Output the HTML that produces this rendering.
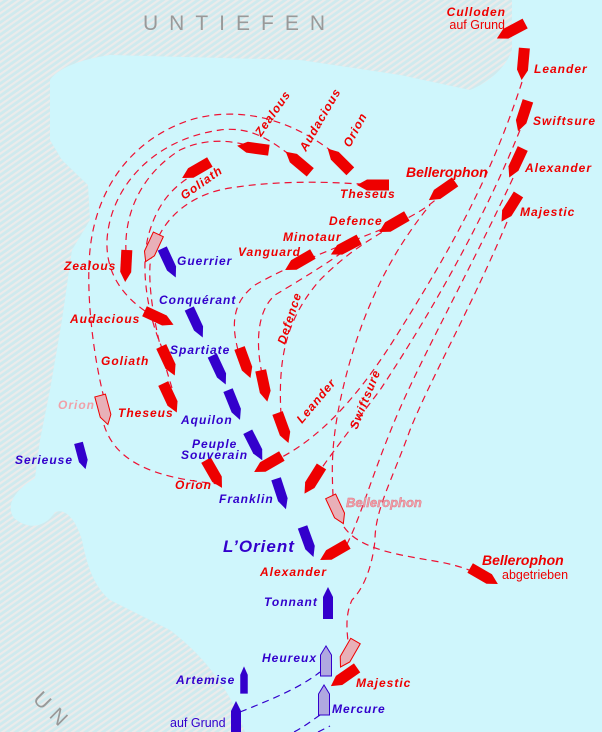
<!DOCTYPE html>
<html><head><meta charset="utf-8"><style>
html,body{margin:0;padding:0;width:602px;height:732px;overflow:hidden;background:#cff6fc}
svg{display:block}
.r{fill:#ee0000;font:italic bold 12px "Liberation Sans",sans-serif;letter-spacing:1px}
.b{fill:#3300cc;font:italic bold 12px "Liberation Sans",sans-serif;letter-spacing:1px}
.n{font:12.5px "Liberation Sans",sans-serif}
.d{fill:none;stroke:#ee1133;stroke-width:1.2;stroke-dasharray:7 5}
.db{fill:none;stroke:#3300cc;stroke-width:1.2;stroke-dasharray:7 5}
</style></head><body>
<svg width="602" height="732" viewBox="0 0 602 732" xmlns="http://www.w3.org/2000/svg">
<defs>
<pattern id="h" width="5" height="5" patternUnits="userSpaceOnUse" patternTransform="rotate(-35)">
<rect width="5" height="5" fill="#cfeaee"/><rect width="5" height="2.2" fill="#ebebeb"/>
</pattern>
<polygon id="sr" points="-16,-5.5 6,-5.5 16,0 6,5.5 -16,5.5" fill="#ee0000"/>
<polygon id="sb" points="-16,-5 6,-5 16,0 6,5 -16,5" fill="#3300cc"/>
<polygon id="sp" points="-15,-5.5 6,-5.5 15,0 6,5.5 -15,5.5" fill="#e8b0b8" stroke="#ee0000" stroke-width="1"/>
<polygon id="sq" points="-15,-5.5 6,-5.5 15,0 6,5.5 -15,5.5" fill="#b0a8e0" stroke="#3300cc" stroke-width="1"/>
</defs>
<rect width="602" height="732" fill="url(#h)"/>
<path fill="#cff6fc" d="M50,80 C60,65 90,58 110,55 L300,60 L400,75 L470,90 C495,80 508,62 512,50 L512,0 L602,0 L602,732 L245,732 C235,700 210,660 170,630 L110,600 C92,585 86,560 82,540 C76,520 66,508 55,512 C45,528 28,530 14,518 C5,505 15,490 35,478 L40,440 L50,390 L62,320 L72,250 L90,220 L88,185 L62,160 L50,140 Z"/>

<text x="143" y="30" fill="#999" font-family="Liberation Sans" font-size="21" letter-spacing="11">UNTIEFEN</text>
<text x="0" y="0" fill="#999" font-family="Liberation Sans" font-size="21" letter-spacing="8" transform="translate(32,700) rotate(45)">UN</text>

<path class="d" d="M104,398 C92,350 86,290 90,250 C96,190 130,140 190,120 C240,105 290,120 330,150"/>
<path class="d" d="M104,425 C115,460 150,478 220,484"/>
<path class="d" d="M145,311 C115,290 106,265 107,240 C110,190 150,140 220,130 C250,126 270,140 290,155"/>
<path class="d" d="M126,252 C124,215 140,175 180,150 C205,138 230,140 250,146"/>
<path class="d" d="M163,350 C145,310 140,260 150,230 C158,205 170,190 188,178"/>
<path class="d" d="M172,388 C160,350 148,300 150,265 C155,225 185,195 230,188 C280,180 330,182 360,184"/>
<path class="d" d="M238,350 C230,320 235,300 255,285 C290,265 330,250 400,222 C420,212 430,205 440,196"/>
<path class="d" d="M262,374 C255,340 258,310 275,295 C300,280 330,262 345,250"/>
<path class="d" d="M281,415 C278,360 285,320 320,280 C350,250 370,240 392,226"/>
<path class="d" d="M522,82 C490,180 450,250 400,330 C360,395 320,440 272,462"/>
<path class="d" d="M520,130 C480,230 420,330 380,390 C350,430 330,455 310,485"/>
<path class="d" d="M333,496 C332,470 330,440 345,380 C360,320 385,260 430,205"/>
<path class="d" d="M513,178 C470,270 420,360 395,420 C370,480 360,520 345,548"/>
<path class="d" d="M344,527 C360,550 400,555 440,562 C460,566 470,570 480,575"/>
<path class="d" d="M507,222 C470,310 430,380 410,430 C392,480 375,510 375,540 C372,570 362,590 352,600 C345,615 347,630 348,642"/>

<path class="db" d="M240,712 C270,700 300,688 320,672"/>
<path class="db" d="M320,715 C310,722 302,728 294,732"/>
<path class="db" d="M318,732 L330,726"/>

<use href="#sr" transform="translate(511,31) rotate(152)"/>
<use href="#sr" transform="translate(523,64) rotate(95)"/>
<use href="#sr" transform="translate(523,116) rotate(108)"/>
<use href="#sr" transform="translate(516,163) rotate(115)"/>
<use href="#sr" transform="translate(510,208) rotate(122)"/>
<use href="#sr" transform="translate(442,191) rotate(145)"/>
<use href="#sr" transform="translate(393,224) rotate(150)"/>
<use href="#sr" transform="translate(345,247) rotate(152)"/>
<use href="#sr" transform="translate(299,262) rotate(150)"/>
<use href="#sr" transform="translate(373,185) rotate(180)"/>
<use href="#sr" transform="translate(339,160) rotate(-135)"/>
<use href="#sr" transform="translate(298,162) rotate(-140)"/>
<use href="#sr" transform="translate(253,148) rotate(188)"/>
<use href="#sr" transform="translate(196,170) rotate(150)"/>
<use href="#sr" transform="translate(126,266) rotate(93)"/>
<use href="#sr" transform="translate(159,318) rotate(25)"/>
<use href="#sr" transform="translate(168,361) rotate(65)"/>
<use href="#sr" transform="translate(170,398) rotate(65)"/>
<use href="#sr" transform="translate(245,363) rotate(70)"/>
<use href="#sr" transform="translate(264,386) rotate(78)"/>
<use href="#sr" transform="translate(283,428) rotate(70)"/>
<use href="#sr" transform="translate(268,464) rotate(150)"/>
<use href="#sr" transform="translate(214,474) rotate(60)"/>
<use href="#sr" transform="translate(313,480) rotate(122)"/>
<use href="#sr" transform="translate(334,552) rotate(150)"/>
<use href="#sr" transform="translate(484,576) rotate(30)"/>
<use href="#sr" transform="translate(344,677) rotate(145)"/>
<use href="#sp" transform="translate(152,248) rotate(115)"/>
<use href="#sp" transform="translate(104,410) rotate(75)"/>
<use href="#sp" transform="translate(337,510) rotate(65)"/>
<use href="#sp" transform="translate(348,654) rotate(120)"/>
<use href="#sb" transform="translate(169,263) rotate(65)"/>
<use href="#sb" transform="translate(196,323) rotate(65)"/>
<use href="#sb" transform="translate(219,370) rotate(65)"/>
<use href="#sb" transform="translate(234,405) rotate(68)"/>
<use href="#sb" transform="translate(255,446) rotate(63)"/>
<use href="#sb" transform="translate(281,494) rotate(72)"/>
<use href="#sb" transform="translate(308,542) rotate(70)"/>
<use href="#sb" transform="translate(328,603) rotate(-90)"/>
<use href="#sb" transform="translate(82,456) rotate(75) scale(0.85,0.9)"/>
<use href="#sb" transform="translate(244,680) rotate(-90) scale(0.85,0.75)"/>
<use href="#sb" transform="translate(236,717) rotate(-90)"/>
<use href="#sq" transform="translate(326,661) rotate(-90)"/>
<use href="#sq" transform="translate(324,700) rotate(-90)"/>

<text class="r" x="506" y="16" text-anchor="end">Culloden</text>
<text class="n" x="505" y="29" fill="#ee0000" text-anchor="end">auf Grund</text>
<text class="r" x="534" y="73">Leander</text>
<text class="r" x="533" y="125">Swiftsure</text>
<text class="r" x="525" y="172">Alexander</text>
<text class="r" x="520" y="216">Majestic</text>
<text class="r" x="406" y="177" style="font-size:14px;letter-spacing:0">Bellerophon</text>
<text class="r" x="340" y="198">Theseus</text>
<text class="r" x="329" y="225">Defence</text>
<text class="r" x="283" y="241">Minotaur</text>
<text class="r" x="238" y="256">Vanguard</text>
<text class="r" transform="translate(350,148) rotate(-62)">Orion</text>
<text class="r" transform="translate(306,152) rotate(-60)">Audacious</text>
<text class="r" transform="translate(261,137) rotate(-55)">Zealous</text>
<text class="r" transform="translate(184,200) rotate(-35)">Goliath</text>
<text class="r" x="64" y="270">Zealous</text>
<text class="b" x="177" y="265">Guerrier</text>
<text class="b" x="159" y="304">Conquérant</text>
<text class="r" x="70" y="323">Audacious</text>
<text class="b" x="170" y="354">Spartiate</text>
<text class="r" x="101" y="365">Goliath</text>
<text class="r" x="58" y="409" style="fill:#f0a0a8">Orion</text>
<text class="r" x="118" y="417">Theseus</text>
<text class="b" x="181" y="424">Aquilon</text>
<text class="b" x="192" y="448">Peuple</text>
<text class="b" x="181" y="459">Souverain</text>
<text class="b" x="15" y="464">Serieuse</text>
<text class="r" x="175" y="489">Orion</text>
<text class="b" x="219" y="503">Franklin</text>
<text class="b" x="223" y="552" style="font-size:17px">L’Orient</text>
<text class="r" x="260" y="576">Alexander</text>
<text class="b" x="264" y="606">Tonnant</text>
<text class="b" x="262" y="662">Heureux</text>
<text class="b" x="176" y="684">Artemise</text>
<text class="n" x="170" y="727" fill="#3300cc">auf Grund</text>
<text class="b" x="332" y="713">Mercure</text>
<text class="r" x="356" y="687">Majestic</text>
<text class="r" x="346" y="507" style="fill:#f0a0a8;font-size:13px;letter-spacing:0" stroke="#e07080" stroke-width="0.4">Bellerophon</text>
<text class="r" x="482" y="565" style="font-size:14px;letter-spacing:0">Bellerophon</text>
<text class="n" x="502" y="579" fill="#ee0000">abgetrieben</text>
<text class="r" transform="translate(285,345) rotate(-72)">Defence</text>
<text class="r" transform="translate(302,424) rotate(-50)">Leander</text>
<text class="r" transform="translate(357,430) rotate(-68)">Swiftsure</text>
</svg>
</body></html>
